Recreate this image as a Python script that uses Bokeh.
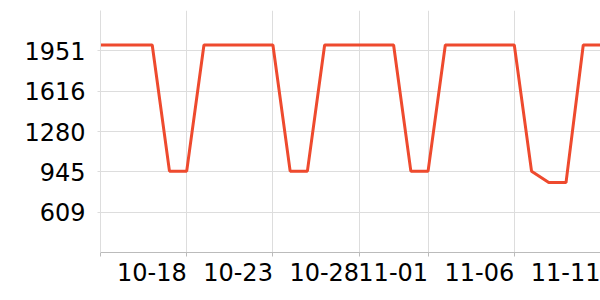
from bokeh.plotting import figure
from bokeh.models import Range1d, FixedTicker, ColumnDataSource
from bokeh.embed import file_html
from bokeh.resources import INLINE

dates = ["10-13", "10-14", "10-15", "10-16", "10-17", "10-18", "10-19", "10-20",
         "10-21", "10-22", "10-23", "10-24", "10-25", "10-26", "10-27", "10-28",
         "10-29", "10-30", "10-31", "11-01", "11-02", "11-03", "11-04", "11-05",
         "11-06", "11-07", "11-08", "11-09", "11-10", "11-11"]
values = [2000, 2000, 2000, 2000, 950, 950, 2000, 2000,
          2000, 2000, 2000, 950, 950, 2000, 2000, 2000,
          2000, 2000, 950, 950, 2000, 2000, 2000, 2000,
          2000, 950, 855, 855, 2000, 2000]
x_tick_labels = ["10-18", "10-23", "10-28", "11-01", "11-06", "11-11"]
y_ticks = [609, 945, 1280, 1616, 1951]
y_min, y_max = 273, 2287

W, H = 600, 300
LEFT, TOP, BOTTOM = 100, 10, 48
FONT_PX = 24

idx = list(range(len(dates)))
src = ColumnDataSource(dict(x=idx, y=values))

p = figure(width=W, height=H, output_backend="svg", toolbar_location=None,
           x_range=Range1d(0, len(dates) - 1), y_range=Range1d(y_min, y_max),
           min_border_left=LEFT, min_border_right=0, min_border_top=TOP,
           min_border_bottom=BOTTOM)
p.outline_line_color = None
p.background_fill_color = "white"
p.border_fill_color = "white"

p.line("x", "y", source=src, line_color="#ee4a2e", line_width=3)

tick_pos = [0] + [dates.index(l) for l in x_tick_labels]

# labels right-aligned to their ticks: shift label centres left by half a label width;
# real tick marks drawn as "minor" ticks at the true positions
px_per_day = (W - LEFT) / (len(dates) - 1)
half_label_px = 0.5 * 2.905 * FONT_PX
shift = half_label_px / px_per_day
label_pos = [dates.index(l) - shift for l in x_tick_labels]

p.xaxis.ticker = FixedTicker(ticks=label_pos, minor_ticks=tick_pos)
p.xaxis.major_label_overrides = {pos: l for pos, l in zip(label_pos, x_tick_labels)}
p.xaxis.axis_line_color = "#bbbbbb"
p.xaxis.major_tick_line_color = None
p.xaxis.minor_tick_line_color = "#bbbbbb"
p.xaxis.minor_tick_out = 4
p.xaxis.minor_tick_in = 0
p.xaxis.major_tick_out = 4
p.xaxis.major_tick_in = 0
p.xaxis.major_label_standoff = 6
p.xaxis.major_label_text_font = "DejaVu Sans"
p.xaxis.major_label_text_font_size = f"{FONT_PX}px"
p.xaxis.major_label_text_color = "black"

p.yaxis.ticker = FixedTicker(ticks=y_ticks)
p.yaxis.axis_line_color = "#dddddd"
p.yaxis.major_tick_line_color = "#dddddd"
p.yaxis.major_tick_out = 3
p.yaxis.major_tick_in = 0
p.yaxis.minor_tick_line_color = None
p.yaxis.major_label_standoff = 12
p.yaxis.major_label_text_font = "DejaVu Sans"
p.yaxis.major_label_text_font_size = f"{FONT_PX}px"
p.yaxis.major_label_text_color = "black"

p.xgrid.ticker = FixedTicker(ticks=tick_pos)
p.xgrid.grid_line_color = "#dddddd"
p.ygrid.grid_line_color = "#dddddd"

open("out.html", "w").write(file_html(p, INLINE))
